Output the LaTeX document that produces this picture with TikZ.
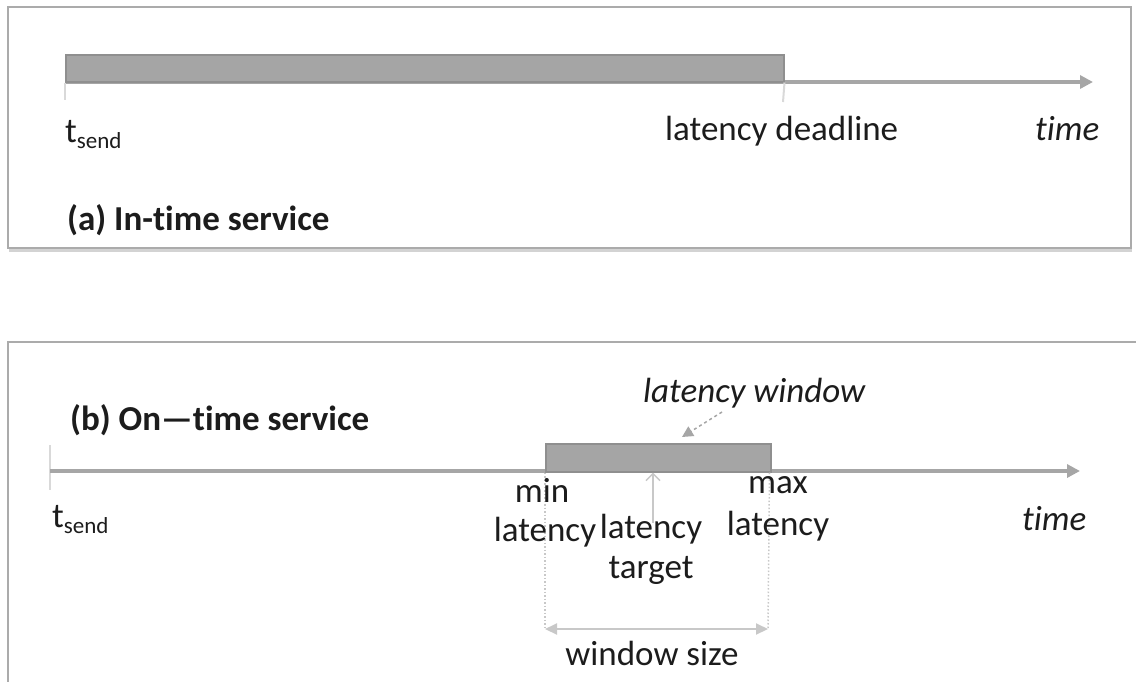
\documentclass[tikz,border=0pt]{standalone}
\usepackage{fontspec}
\setmainfont{Carlito}[Ligatures=NoCommon]
\usetikzlibrary{arrows.meta,shadows}

\definecolor{framegray}{HTML}{ABABAB}
\definecolor{axisgray}{HTML}{A6A6A6}
\definecolor{barfill}{HTML}{A5A5A5}
\definecolor{bardraw}{HTML}{8F8F8F}
\definecolor{tickgray}{HTML}{D9D9D9}
\definecolor{guidegray}{HTML}{C8C8C8}
\definecolor{inkgray}{HTML}{1C1C1C}

\begin{document}
\begin{tikzpicture}[x=1pt,y=-1pt,
  panel/.style={draw=framegray, line width=2pt, fill=white},
  axisline/.style={draw=axisgray, line width=4pt, -{Triangle[length=13pt,width=13pt]}},
  barbox/.style={draw=bardraw, line width=1.5pt, fill=barfill, inner sep=0pt, anchor=north west},
  tickline/.style={draw=tickgray, line width=2pt},
  guide/.style={draw=guidegray, line width=1.5pt, dotted},
  pointer/.style={draw=guidegray, line width=1.5pt, -{Straight Barb[length=7pt,width=14pt]}},
  span/.style={draw=guidegray, line width=2pt, {Triangle[length=12pt,width=11pt]}-{Triangle[length=12pt,width=11pt]}},
  callout/.style={draw=axisgray, line width=1.5pt, dashed, -{Triangle[length=11pt,width=11pt]}},
  lbl/.style={font=\fontsize{35}{40}\selectfont, text=inkgray, inner sep=0pt},
  title/.style={lbl, font=\fontsize{35}{40}\selectfont\bfseries},
  sub/.style={lbl, font=\fontsize{35}{40}\selectfont\itshape},
]
\useasboundingbox (0,0) rectangle (1136,681);

% ---------- (a) in-time service ----------
\draw[panel, drop shadow={shadow xshift=1pt, shadow yshift=-4pt, opacity=0.35}] (8,7) rectangle (1131,248);

\coordinate (a-start) at (65,82);
\coordinate (a-end) at (1093,82);
\coordinate (a-tick0) at (65,100);
\coordinate (a-dltick) at (783,102);

\draw[axisline] (a-start) -- (a-end);
\node[barbox, minimum width=718pt, minimum height=27pt] (a-bar) at (65,54) {};
\draw[tickline] (a-bar.south west) -- (a-tick0);
\draw[tickline] (a-bar.south east) -- (a-dltick);

\node[lbl, anchor=base west] (a-tsend) at (65,142) {t{\fontsize{23}{24}\selectfont\raisebox{-6pt}{send}}};
\node[lbl, anchor=base west] (a-deadline) at (665,140) {latency deadline};
\node[sub, anchor=base west] (a-time) at (1035,140) {time};
\node[title, anchor=base west] (a-title) at (67,230) {(a) In-time service};

% ---------- (b) on-time service ----------
\draw[panel] (1150,342) -- (8,342) -- (8,700);

\coordinate (b-start) at (50,471);
\coordinate (b-end) at (1080,471);
\coordinate (b-tickt) at (50,445);
\coordinate (b-tickb) at (50,490);

\node[title, anchor=base west] (b-title) at (70,430) {(b) On—time service};

\draw[tickline] (b-tickt) -- (b-tickb);
\draw[axisline] (b-start) -- (b-end);
\node[barbox, minimum width=225pt, minimum height=28pt] (b-bar) at (545,443) {};

% window bounds and size
\coordinate (b-minlow) at (545,629);
\coordinate (b-maxlow) at (768,629);
\draw[guide] (b-bar.south west) -- (b-minlow);
\draw[guide] ([xshift=-2pt]b-bar.south east) -- (b-maxlow);
\draw[span] (b-minlow) -- (b-maxlow);

% target marker
\coordinate (b-target) at (653,523);
\draw[pointer] (b-target) -- (b-target |- b-bar.south);

% callout to the window
\node[sub, anchor=base west] (b-window) at (643,402) {latency window};
\coordinate (b-callfrom) at (722,412);
\coordinate (b-callto) at (682,437);
\draw[callout] (b-callfrom) -- (b-callto);

\node[lbl, anchor=base west] (b-tsend) at (52,527) {t{\fontsize{23}{24}\selectfont\raisebox{-6pt}{send}}};
\node[lbl, anchor=base] (b-min) at (542,502) {min};
\node[lbl, anchor=base] (b-minlat) at (545,541) {latency};
\node[lbl, anchor=base] (b-tgtlat) at (651,538) {latency};
\node[lbl, anchor=base] (b-tgt) at (651,578) {target};
\node[lbl, anchor=base] (b-max) at (778,493) {max};
\node[lbl, anchor=base] (b-maxlat) at (778,535) {latency};
\node[lbl, anchor=base] (b-size) at (652,665) {window size};
\node[sub, anchor=base west] (b-time) at (1022,530) {time};
\end{tikzpicture}
\end{document}
